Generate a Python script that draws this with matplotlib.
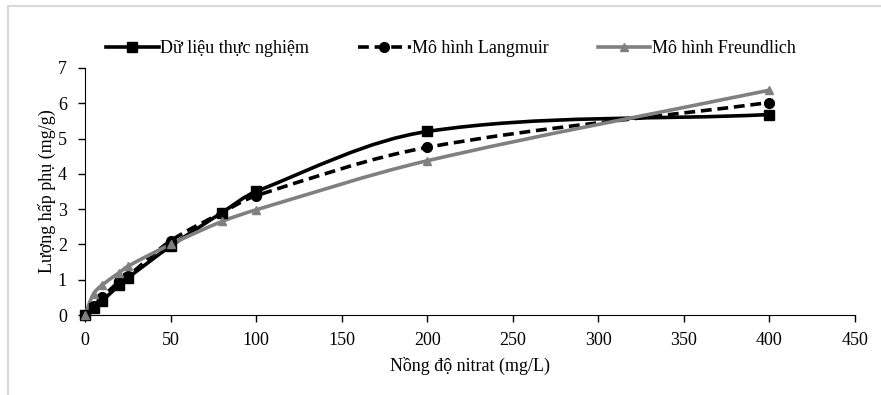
import numpy as np
import matplotlib
matplotlib.use('Agg')
import matplotlib.pyplot as plt
from matplotlib.path import Path
from matplotlib.patches import PathPatch
from matplotlib.lines import Line2D

# Nồng độ nitrat (mg/L)
conc = [0, 5, 10, 20, 25, 50, 80, 100, 200, 400]
thuc_nghiem = [0, 0.2, 0.4, 0.85, 1.05, 1.95, 2.9, 3.5, 5.2, 5.68]
langmuir = [0, 0.25, 0.5, 0.95, 1.1, 2.1, 2.9, 3.38, 4.75, 6.02]
freundlich = [0, 0.6, 0.85, 1.2, 1.38, 2.0, 2.65, 2.98, 4.37, 6.37]
labels = ['Dữ liệu thực nghiệm', 'Mô hình Langmuir', 'Mô hình Freundlich']

plt.rcParams['font.family'] = ['Liberation Serif', 'DejaVu Serif']


def smooth_path(ax, x, y, **kw):
    # smoothed line like Excel: cubic Bezier through the points,
    # tangent length scaled to each segment so uneven spacing stays smooth
    pts = ax.transData.transform(np.column_stack([x, y]))
    n = len(pts)
    tang = []
    for i in range(n):
        d = pts[min(i + 1, n - 1)] - pts[max(i - 1, 0)]
        tang.append(d / np.hypot(*d))
    verts = [pts[0]]
    codes = [Path.MOVETO]
    for i in range(n - 1):
        seg = np.hypot(*(pts[i + 1] - pts[i])) / 3
        verts += [pts[i] + tang[i] * seg, pts[i + 1] - tang[i + 1] * seg, pts[i + 1]]
        codes += [Path.CURVE4] * 3
    patch = PathPatch(Path(verts, codes), fill=False, transform=None, **kw)
    ax.add_artist(patch)


fig = plt.figure(figsize=(8.81, 3.95), dpi=100)
ax = fig.add_axes([0.0965, 0.2025, 0.874, 0.6255])
ax.set_xlim(0, 450)
ax.set_ylim(0, 7)
ax.set_xticks(range(0, 451, 50))
ax.set_yticks(range(0, 8))
for s in ['top', 'right']:
    ax.spines[s].set_visible(False)
ax.tick_params(direction='out', length=5, width=1, labelsize=13)
ax.tick_params(axis='y', pad=8)
ax.tick_params(axis='x', pad=7)

series = [
    (thuc_nghiem, 'black', '-', 's', 7),
    (langmuir, 'black', (0, (3, 1.6)), 'o', 7),
    (freundlich, '#808080', '-', '^', 6),
]
handles = []
for (vals, col, ls, mk, ms), lab in zip(series, labels):
    smooth_path(ax, conc, vals, edgecolor=col, linestyle=ls, linewidth=2.6,
                zorder=3, clip_on=False)
    ax.plot(conc, vals, linestyle='none', marker=mk, color=col, markersize=ms,
            zorder=4, clip_on=False)
    handles.append(Line2D([], [], color=col, linestyle=ls, linewidth=2.6,
                          marker=mk, markersize=ms))

ax.set_xlabel('Nồng độ nitrat (mg/L)', fontsize=13, labelpad=6)
ax.set_ylabel('Lượng hấp phụ (mg/g)', fontsize=13, labelpad=1)

fig.legend(handles, labels, loc='center', bbox_to_anchor=(0.512, 0.876), ncol=3,
           frameon=False, fontsize=13, handlelength=2.9, handletextpad=0.1,
           columnspacing=2.7)

# light chart-area border
fig.add_artist(Line2D([8 / 881, 8 / 881], [0, 1 - 6 / 395], color='#d9d9d9',
                      linewidth=1.5, transform=fig.transFigure))
fig.add_artist(Line2D([8 / 881, 1], [1 - 6 / 395, 1 - 6 / 395], color='#d9d9d9',
                      linewidth=1.5, transform=fig.transFigure))

fig.savefig('out.png', dpi=100)
